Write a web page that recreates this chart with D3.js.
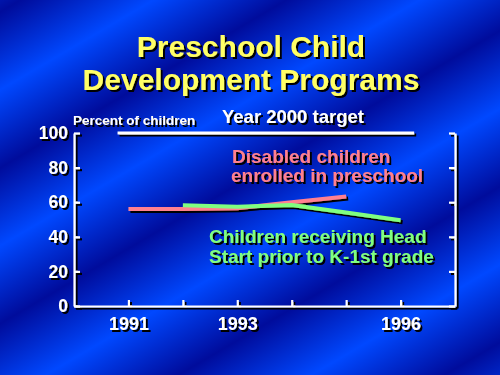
<!DOCTYPE html>
<html>
<head>
<meta charset="utf-8">
<script src="https://cdn.jsdelivr.net/npm/d3@7"></script>
<style>
  body { margin: 0; background: #0022cc; }
  svg text { font-family: "Liberation Sans", Arial, sans-serif; font-weight: bold; }
</style>
</head>
<body>
<div id="main"></div>
<script>
var years = [1991, 1992, 1993, 1994, 1995, 1996];
var yearLabels = {1991: "1991", 1993: "1993", 1996: "1996"};
var yTicks = [0, 20, 40, 60, 80, 100];
var disabledYears = [1991, 1992, 1993, 1994, 1995];
var disabledValues = [56, 56, 56.5, 60, 63.3];
var headStartYears = [1992, 1993, 1994, 1995, 1996];
var headStartValues = [58.2, 57.4, 58.4, 54, 49.6];
var targetYears = [1990.8, 1996.25];
var targetValue = 100;

var width = 500, height = 375;

var svg = d3.select("#main").append("svg")
    .attr("width", width)
    .attr("height", height);

var defs = svg.append("defs");

var grad = defs.append("linearGradient")
    .attr("id", "bg")
    .attr("gradientUnits", "userSpaceOnUse")
    .attr("x1", 0).attr("y1", 90)
    .attr("x2", 34).attr("y2", 148)
    .attr("spreadMethod", "reflect");
grad.append("stop").attr("offset", "0%").attr("stop-color", "#0048ff");
grad.append("stop").attr("offset", "100%").attr("stop-color", "#000c9c");

var shadow = defs.append("filter")
    .attr("id", "shadow")
    .attr("x", "-10%").attr("y", "-10%")
    .attr("width", "120%").attr("height", "130%");
shadow.append("feDropShadow")
    .attr("dx", 2).attr("dy", 2)
    .attr("stdDeviation", 0)
    .attr("flood-color", "#000")
    .attr("flood-opacity", 1);

svg.append("rect")
    .attr("width", width)
    .attr("height", height)
    .attr("fill", "url(#bg)");

var x = d3.scaleLinear().domain([1990, 1997]).range([74, 455]);
var y = d3.scaleLinear().domain([0, 100]).range([306, 133]);

var g = svg.append("g").attr("filter", "url(#shadow)");

// title
g.append("text")
    .attr("x", 251).attr("y", 57)
    .attr("text-anchor", "middle")
    .attr("font-size", 30)
    .attr("fill", "#ffff66")
    .text("Preschool Child");
g.append("text")
    .attr("x", 251).attr("y", 90)
    .attr("text-anchor", "middle")
    .attr("font-size", 30)
    .attr("fill", "#ffff66")
    .text("Development Programs");

g.append("text")
    .attr("x", 73).attr("y", 125)
    .attr("font-size", 13.5)
    .attr("fill", "#fff")
    .text("Percent of children");

// axes
var left = g.append("g")
    .attr("transform", "translate(" + x(1990) + ",0)")
    .call(d3.axisLeft(y).tickValues(yTicks).tickSize(-6).tickSizeOuter(0).tickPadding(6));

var right = g.append("g")
    .attr("transform", "translate(" + x(1997) + ",0)")
    .call(d3.axisRight(y).tickValues(yTicks).tickSize(-6).tickSizeOuter(0).tickFormat(""));

var bottom = g.append("g")
    .attr("transform", "translate(0," + y(0) + ")")
    .call(d3.axisBottom(x).tickValues(years).tickSize(-6).tickSizeOuter(0).tickPadding(11)
        .tickFormat(function(d) { return yearLabels[d] || ""; }));

[left, right, bottom].forEach(function(a) {
    a.selectAll(".domain").attr("stroke", "#fff").attr("stroke-width", 2.2);
    a.selectAll(".tick line").attr("stroke", "#fff").attr("stroke-width", 2.2);
    a.selectAll(".tick text").attr("fill", "#fff").attr("font-size", 18)
        .attr("font-family", "Liberation Sans, Arial, sans-serif");
});
left.selectAll(".tick text").attr("font-size", 17.5);

// target line
g.append("path")
    .datum(targetYears)
    .attr("fill", "none")
    .attr("stroke", "#fff")
    .attr("stroke-width", 2.8)
    .attr("d", d3.line().x(function(d) { return x(d); }).y(y(targetValue)));

g.append("text")
    .attr("x", 222).attr("y", 123)
    .attr("font-size", 18.5)
    .attr("fill", "#fff")
    .text("Year 2000 target");

// series
var line = d3.line()
    .x(function(d) { return x(d[0]); })
    .y(function(d) { return y(d[1]); });

g.append("path")
    .datum(d3.zip(disabledYears, disabledValues))
    .attr("fill", "none")
    .attr("stroke", "#ff8090")
    .attr("stroke-width", 4)
    .attr("d", line);

g.append("path")
    .datum(d3.zip(headStartYears, headStartValues))
    .attr("fill", "none")
    .attr("stroke", "#80ff80")
    .attr("stroke-width", 4)
    .attr("d", line);

// labels
g.append("text")
    .attr("x", 232).attr("y", 163)
    .attr("font-size", 19)
    .attr("fill", "#ff8090")
    .text("Disabled children");
g.append("text")
    .attr("x", 231).attr("y", 182)
    .attr("font-size", 19)
    .attr("fill", "#ff8090")
    .text("enrolled in preschool");

g.append("text")
    .attr("x", 209).attr("y", 243)
    .attr("font-size", 19)
    .attr("fill", "#80ff80")
    .text("Children receiving Head");
g.append("text")
    .attr("x", 209).attr("y", 263)
    .attr("font-size", 19)
    .attr("fill", "#80ff80")
    .text("Start prior to K-1st grade");
</script>
</body>
</html>
